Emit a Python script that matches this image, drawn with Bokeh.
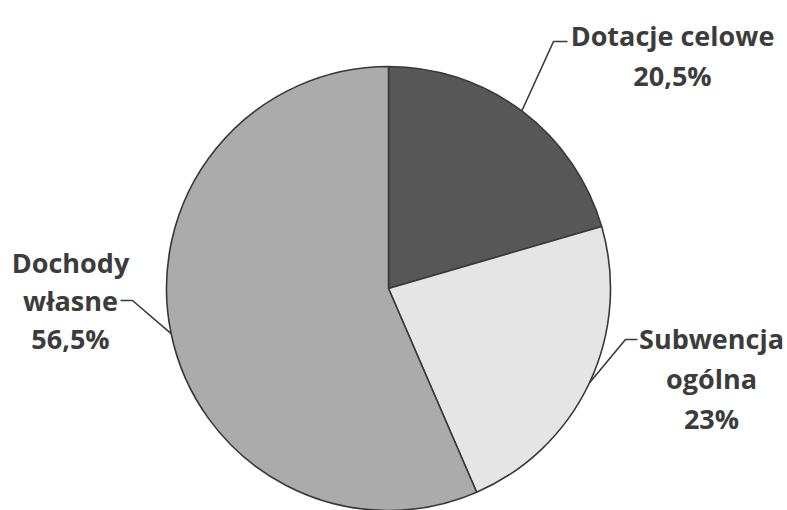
import math
from bokeh.plotting import figure
from bokeh.models import Range1d, ColumnDataSource
from bokeh.core.properties import value
from bokeh.embed import file_html
from bokeh.resources import INLINE

# ---- data ----
categories = ["Dotacje celowe", "Subwencja ogólna", "Dochody własne"]
shares = [20.5, 23.0, 56.5]
pct_labels = ["20,5%", "23%", "56,5%"]
label_lines = [["Dotacje celowe"], ["Subwencja", "ogólna"], ["Dochody", "własne"]]
colors = ["#575757", "#e5e5e5", "#ababab"]

# ---- layout (reference pixel coords, y from top) ----
W, H = 787, 510
CX, CY, R = 388, 288, 222
text_anchor = [(672, 35), (711, 338), (70, 262)]   # centre x, first baseline
line_step = [40, 40, 38]
elbow = [((553, 41), (567, 41)), ((625, 339), (637, 339)), ((132, 300), (120, 300))]

def fy(y):
    return H - y

p = figure(width=W, height=H, output_backend="svg", toolbar_location=None,
           x_range=Range1d(0, W), y_range=Range1d(0, H),
           min_border=0, outline_line_color=None, background_fill_color="white",
           border_fill_color="white")
p.axis.visible = False
p.xgrid.visible = False
p.ygrid.visible = False

total = sum(shares)
cum = 0.0
starts, ends, mids = [], [], []
for s in shares:
    a0 = math.pi / 2 - 2 * math.pi * (cum + s) / total
    a1 = math.pi / 2 - 2 * math.pi * cum / total
    starts.append(a0)
    ends.append(a1)
    mids.append((a0 + a1) / 2)
    cum += s

src = ColumnDataSource(dict(start=starts, end=ends, color=colors, cat=categories))
p.wedge(x=CX, y=fy(CY), radius=R, start_angle="start", end_angle="end",
        fill_color="color", line_color="#383838", line_width=1.6, source=src)

# leader lines
for i, m in enumerate(mids):
    ex = CX + R * math.cos(m)
    ey = fy(CY) + R * math.sin(m)
    (bx, by), (tx, ty) = elbow[i]
    p.line([ex, bx, tx], [ey, fy(by), fy(ty)], line_color="#3a3a3a", line_width=1.6)

# labels
tx_, ty_, tt = [], [], []
for i in range(len(categories)):
    lines = label_lines[i] + [pct_labels[i]]
    cx, by = text_anchor[i]
    for k, t in enumerate(lines):
        tx_.append(cx)
        ty_.append(fy(by + k * line_step[i]))
        tt.append(t)
p.text(x=tx_, y=ty_, text=tt, text_font=value("Open Sans"), text_font_style="bold",
       text_font_size="27px", text_color="#3c3c3c", text_align="center",
       text_baseline="alphabetic")

open("out.html", "w").write(file_html(p, INLINE))
